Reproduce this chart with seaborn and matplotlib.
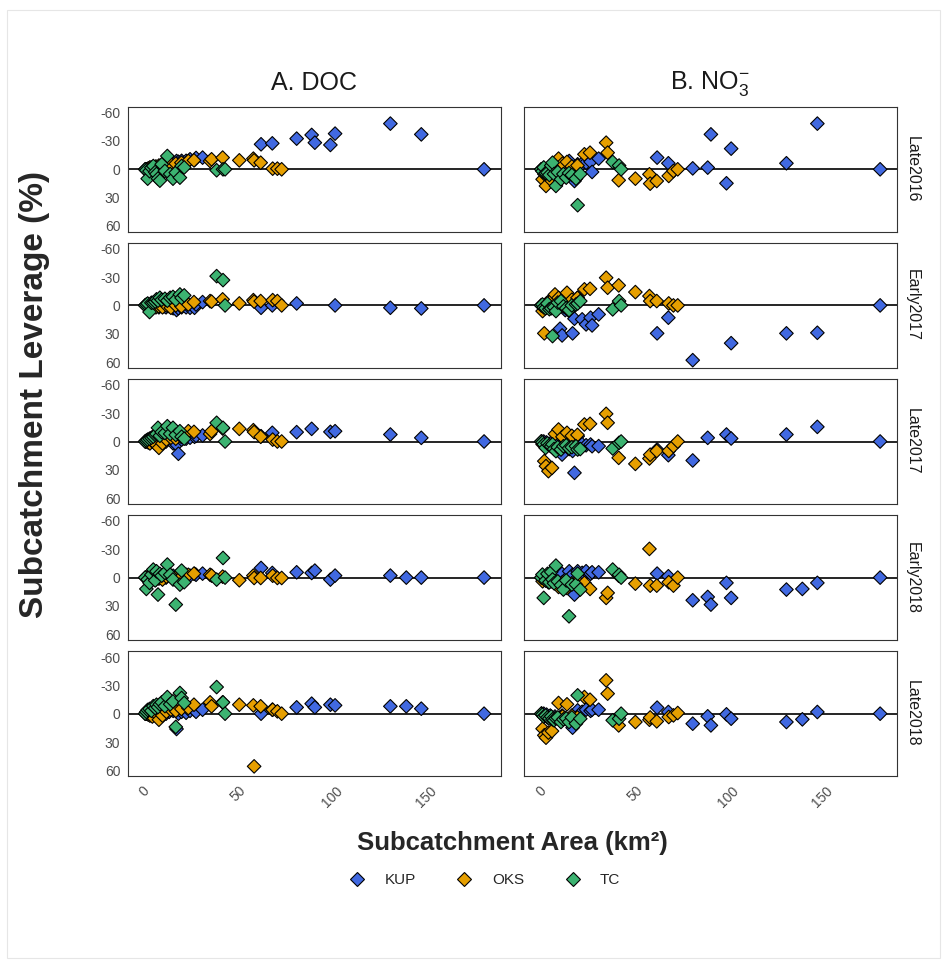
import numpy as np
import pandas as pd
import matplotlib
matplotlib.use("Agg")
import matplotlib.pyplot as plt
from matplotlib.lines import Line2D
from matplotlib.patches import Rectangle
import seaborn as sns

# ---------------------------------------------------------------------------
# Data: subcatchment areas (km2) per catchment and leverage (%) per campaign
# ---------------------------------------------------------------------------
SITES = ["KUP", "OKS", "TC"]
SEASONS = ["Late2016", "Early2017", "Late2017", "Early2018", "Late2018"]
PALETTE = {"KUP": "#4169E1", "OKS": "#E69F00", "TC": "#3CB371"}

kup_area = [0.4, 1.5, 3, 5, 7.5, 10.2, 11.3, 13, 15.1, 16.9, 17.9, 19.6, 22, 24.1,
            26.5, 27.3, 30.8, 62, 68, 81, 89, 90.7, 99, 101.5, 131, 139.5, 147.5, 181]
oks_area = [0.3, 0.9, 1.8, 2.7, 4, 5.9, 7.5, 9.4, 11.5, 13.9, 16.5, 19.5, 23.2, 26.2,
            34.8, 35.6, 41.5, 50.4, 57.9, 58.3, 61.8, 68.2, 70.7, 73]
tc_area = [0.2, 0.8, 1.5, 2.5, 3.5, 4.5, 5.5, 6.2, 7, 8, 9, 10.7, 12, 13.5, 15, 16.5,
           18.7, 19.6, 21, 38.3, 41.7, 42.8]

nan = np.nan

# DOC leverage
kup_doc_late2016 = [0, 0, -1, -2, -3, -4, -5, -6, -7, -8.8, -8, -9, -9, -10.6, -10, -12, -12.4,
                    -26.5, -27.5, -32.5, -36.4, -28.2, -25.8, -37.8, -48.4, nan, -37, 0]
kup_doc_early2017 = [0, 0, 1, 0, 2, 1, 2, 1, 3, 4.9, 3, 2, 2, 2.5, 2.5, -1, -3.5,
                     2.5, 0, -2.1, nan, nan, nan, 0, 2.5, nan, 3.2, 0]
kup_doc_late2017 = [0, 0, -1, 1, -2, -1, 0, -3, 2, 3.2, 13, -2, -3, -4, -5, -6, -6.4,
                    -5.6, -9.2, -9.9, -13.4, nan, -10.2, -10.9, -7.4, nan, -3.9, 0]
kup_doc_early2018 = [0, 0, 1, -1, -2, -1, 0, -3, -2, -1, -3, -4, -3, -2, -4, -3, -4.2,
                     -10.2, -4.9, -5.6, -4.9, -7.4, 2.1, -2.1, -2.1, 0, 0, 0]
kup_doc_late2018 = [0, 0, -1, 1, -2, -3, 0, -2, -3, 16.2, 0, -2, -1, -3, -4, -2, -4.2,
                    0, -4.2, -6.7, -10.6, -6.7, -9.5, -8.8, -7.8, -7.8, -5.3, 0]

oks_doc_late2016 = [0, 0, -1, -2, -2, -3, -4, -5, -4, -5.3, -6, -7, -8.8, -9.5, -8.8, -10.6,
                    -12.4, -9.5, -11.3, -9.5, -7, -0.7, -0.7, 0]
oks_doc_early2017 = [0, 0, -1, 1, 0, 2, 1, 2, 0, 2.5, 0, 1, -1, -3.5, -4.6, -4, -6.4, -2.1,
                     -5.6, -4, -4.6, -5.6, -4.6, 0]
oks_doc_late2017 = [0, 0, 1, 2, 0, 3, 6.7, 2, -2, -4, -3, -5, -10.9, -10.2, -8, -10.9, -13.8,
                    -13.4, -12, -10, -5, -2, 0, 0]
oks_doc_early2018 = [0, 0, 1, 0, -1, 2, 1, 2.1, -1, -2, 0, -1, -3, -4.2, -3, -2.1, -1, 2.8,
                     -2.1, 0.4, 0.4, -2, 0.4, 0.4]
oks_doc_late2018 = [0, 0, 1, 2, 3, 0, 6.4, 2, -2, -4.2, -3, -5, -6, -9.5, -12, -7.8, -12,
                    -9.5, -8.8, 55.8, -7.8, -4.2, -2.5, 0]

tc_doc_late2016 = [0, 1, 9.9, 2, -1.8, -3.5, 3, 5, 9.9, 12, -5.3, 1.8, -14.1, 5, 9.9, 3.5,
                   8.8, -3.5, -2, 1, 0, 0]
tc_doc_early2017 = [0, -1, -2, 7, -2.8, -3, -4, -6.4, -5, -8.1, -6, -7, -5, -8.1, -9, -6,
                    -11.6, -8, -10.6, -31, -26.8, 0]
tc_doc_late2017 = [0, -1, -2, -3, -4, -5, -7, -8, -14.5, -6, -10, -9, -16.2, -8, -14.5, -7,
                   -10.9, -5, -3, -19.8, -14.5, 0]
tc_doc_early2018 = [0, 12, 2, 5.6, -3, -8.5, 3, -6.7, 18, -4, -2, -5, -13.8, -3, 2, 28.6,
                    7.4, -7.4, 4.9, 2.1, -20.8, 0]
tc_doc_late2018 = [0, -2, -4, -5, -3, -8, -6, -9.5, -7, -10, -12, -8, -17.6, -10, -13, 14,
                   -21.9, -16.6, -11.3, -28.2, -12, 0]

# NO3- leverage
kup_no3_late2016 = [0, -1, 0, -2, -3, -4, 5, -3, -8.8, -2, 12.4, -5.3, -6, -7, -8, 2.8, -11.3,
                    -12.4, -6.4, -1, -1.8, -37, 14.8, -21.9, -6.4, nan, -48.4, 0]
kup_no3_early2017 = [0, 1, -2, 2, 3, 24.7, 31.8, 5, 6, 29.6, 14.1, -8.1, 14.8, 20.1, 13, 21.2, 9.5,
                     29.6, 13, 58, nan, nan, nan, 40, 29.6, nan, 29, 0]
kup_no3_late2017 = [0, 0, 1, 2, 3, 5, 13.8, 4, 8, 10, 33.2, -5.6, 3, 4, 3.2, 5, 4.9,
                    8.5, 14.5, 20.1, -3.9, nan, -7.4, -3.2, -7.4, nan, -15.5, 0]
kup_no3_early2018 = [0, 0, -1, 1, -2, -3, -4, 2, -6.7, -3, 18, -6.7, -5, -6.7, -4, -5.6, -5.6,
                     -4.2, -1.4, 24, 20.5, 28.6, 5.6, 21.5, 12.7, 12, 5.6, 0]
kup_no3_late2018 = [0, 0, 1, 2, 3, 4, 2, 5, 6, 14.8, 8, -3.5, -2, -4.2, -3, -4.2, -4.2,
                    -6.4, -1.8, 10.6, 2.8, 12.4, 0.7, 5.3, 8.8, 6, -1.8, 0]

oks_no3_late2016 = [0, 10.6, 5, 17.6, 8, 12.4, -5, -11.3, -6, -7.8, -3, -4, -15.9, -17.6,
                    -28.2, -17.6, 11.6, 9.9, 5.3, 15.2, 12.4, 7, 1.8, 0]
oks_no3_early2017 = [0, 6, 29.6, 2, -4, -6, -11.6, -8, -5, -13.4, -6, -8, -17, -17.6, -29.3,
                     -18.7, -21.2, -14.1, -9.9, -4.6, -4.6, -2.1, 0, 0]
oks_no3_late2017 = [0, 3, 20.8, 26.1, 31.4, 28, -8, -12.7, -5, -9.2, -6, -7, -18, -18.7, -29.3,
                    -19.8, 17.3, 23.7, 18, 14, 10, 10, 4.9, 0]
oks_no3_early2018 = [0, 3.9, 2, 3, 5, 4, 6, 9.9, 5, 11, 6, 4, 5.6, 12, 21.5, 16.2, -2, 6.4,
                     -30.4, 8.5, 8.5, 4.9, 8.5, 0]
oks_no3_late2018 = [0, 15.9, 22.9, 25.4, 20, 18.4, 5, -11.3, 3, -9.9, 2, 4, -17.6, -14.8,
                    -35.3, -21.2, 12.4, 8.8, 6.4, 4, 8.1, 3.5, 1.8, -0.7]

tc_no3_late2016 = [0, 2, -2, 4, 3.5, 6, -4, -7, 5, 17.6, 3, 10.6, 5, 8.8, 4, 6, 9.9, 38, 5,
                   -7.8, -4, 0]
tc_no3_early2017 = [0, -1, 2, 3, -2, 4, 3, 32.5, 2, 6, -3, -4.6, 1, 3, 5, 0, -1, -2, -4.6,
                    4.2, -4.6, 0]
tc_no3_late2017 = [0, 1, 3, 6.7, 2, 4, 5, 3, 8, 10.2, 6, 8.5, 5, 4, 7, 6, 5, 8.5, 8, 7.4,
                   1.4, 0]
tc_no3_early2018 = [0, -3.2, 21.5, 3, -4, 5, -6, 2, 6, -12.7, 4, 8, 12.7, 3, 41, 7.4, 7.4,
                    -4.2, 12.7, -8.5, -3, 0]
tc_no3_late2018 = [0, 1, 3, 2, 4, 5, 3, 6, 7, 5, 4, 8.8, 6, 5, 8.8, 4, 10.6, -19.4, 5.3, 7,
                   5.3, 0]

AREAS = {"KUP": kup_area, "OKS": oks_area, "TC": tc_area}
LEVERAGE = {
    ("DOC", "Late2016"): {"KUP": kup_doc_late2016, "OKS": oks_doc_late2016, "TC": tc_doc_late2016},
    ("DOC", "Early2017"): {"KUP": kup_doc_early2017, "OKS": oks_doc_early2017, "TC": tc_doc_early2017},
    ("DOC", "Late2017"): {"KUP": kup_doc_late2017, "OKS": oks_doc_late2017, "TC": tc_doc_late2017},
    ("DOC", "Early2018"): {"KUP": kup_doc_early2018, "OKS": oks_doc_early2018, "TC": tc_doc_early2018},
    ("DOC", "Late2018"): {"KUP": kup_doc_late2018, "OKS": oks_doc_late2018, "TC": tc_doc_late2018},
    ("NO3", "Late2016"): {"KUP": kup_no3_late2016, "OKS": oks_no3_late2016, "TC": tc_no3_late2016},
    ("NO3", "Early2017"): {"KUP": kup_no3_early2017, "OKS": oks_no3_early2017, "TC": tc_no3_early2017},
    ("NO3", "Late2017"): {"KUP": kup_no3_late2017, "OKS": oks_no3_late2017, "TC": tc_no3_late2017},
    ("NO3", "Early2018"): {"KUP": kup_no3_early2018, "OKS": oks_no3_early2018, "TC": tc_no3_early2018},
    ("NO3", "Late2018"): {"KUP": kup_no3_late2018, "OKS": oks_no3_late2018, "TC": tc_no3_late2018},
}

rows = []
for (var, season), by_site in LEVERAGE.items():
    for site in SITES:
        for a, lev in zip(AREAS[site], by_site[site]):
            rows.append({"variable": var, "season": season, "site": site,
                         "area": a, "leverage": lev})
df = pd.DataFrame(rows).dropna()

# ---------------------------------------------------------------------------
# Styling
# ---------------------------------------------------------------------------
sns.set_theme(style="white")
plt.rcParams["font.family"] = ["Liberation Sans", "DejaVu Sans"]
plt.rcParams["axes.unicode_minus"] = False
plt.rcParams["mathtext.fontset"] = "custom"
plt.rcParams["mathtext.rm"] = "Liberation Sans"
plt.rcParams["mathtext.it"] = "Liberation Sans"
plt.rcParams["mathtext.bf"] = "Liberation Sans:bold"
plt.rcParams["mathtext.default"] = "regular"

W, H = 946, 964
fig, axes = plt.subplots(5, 2, figsize=(W / 100, H / 100), dpi=100, sharex=True, sharey=True)
fig.subplots_adjust(left=128 / W, right=897 / W, top=1 - 107 / H, bottom=1 - 776 / H,
                    wspace=0.062, hspace=0.092)

AX_COL = "#333333"
for i, season in enumerate(SEASONS):
    for j, var in enumerate(["DOC", "NO3"]):
        ax = axes[i, j]
        sub = df[(df["variable"] == var) & (df["season"] == season)]
        ax.axhline(0, color="black", lw=1.2, zorder=1)
        sns.scatterplot(data=sub, x="area", y="leverage", hue="site", hue_order=SITES,
                        palette=PALETTE, marker="D", s=48, edgecolor="black",
                        linewidth=0.8, legend=False, ax=ax, zorder=3)
        ax.set_xlabel("")
        ax.set_ylabel("")
        for sp in ax.spines.values():
            sp.set_color(AX_COL)
            sp.set_linewidth(0.8)
        ax.tick_params(axis="both", direction="out", length=3.5, width=0.8, color=AX_COL,
                       labelsize=10, labelcolor="#4D4D4D", pad=2)
        if i < len(SEASONS) - 1:
            ax.tick_params(axis="x", length=0)
        if j == 1:
            ax.text(1.04, 0.5, season, transform=ax.transAxes, rotation=-90,
                    ha="center", va="center", fontsize=11.5, color="#1A1A1A")

axes[0, 0].set_ylim(66, -66)
axes[0, 0].set_yticks([-60, -30, 0, 30, 60])
axes[0, 0].set_yticklabels(["-60", "-30", "0", "30", "60"])
axes[0, 0].set_xlim(-9, 190)
axes[0, 0].set_xticks([0, 50, 100, 150])
for ax in axes[-1, :]:
    for lab in ax.get_xticklabels():
        lab.set_rotation(45)
        lab.set_ha("center")
        lab.set_va("top")

# Column titles
fig.text(314 / W, 1 - 83 / H, "A. DOC", ha="center", va="center", fontsize=18, color="#1A1A1A")
fig.text(710 / W, 1 - 83 / H, r"B. NO$_3^{-}$", ha="center", va="center", fontsize=18,
         color="#1A1A1A")

# Axis titles
fig.text(35 / W, 1 - 394 / H, "Subcatchment Leverage (%)", rotation=90, ha="center",
         va="center", fontsize=24, fontweight="bold")
fig.text(512 / W, 1 - 843 / H, "Subcatchment Area (km²)", ha="center",
         va="center", fontsize=18.5, fontweight="bold")

# Legend
handles = [Line2D([], [], marker="D", linestyle="none", markersize=7.5,
                  markerfacecolor=PALETTE[s], markeredgecolor="black", markeredgewidth=0.8)
           for s in SITES]
fig.legend(handles, SITES, loc="center", bbox_to_anchor=(485 / W, 1 - 880 / H),
           ncol=3, frameon=False, fontsize=11, handlelength=1.0, handletextpad=1.3,
           columnspacing=2.67)

# Faint outer frame
fig.patches.append(Rectangle((7 / W, 1 - 958 / H), 933 / W, 948 / H, transform=fig.transFigure,
                             fill=False, edgecolor="#E6E6E6", lw=0.8))

fig.savefig("out.png", dpi=100, facecolor="white")
